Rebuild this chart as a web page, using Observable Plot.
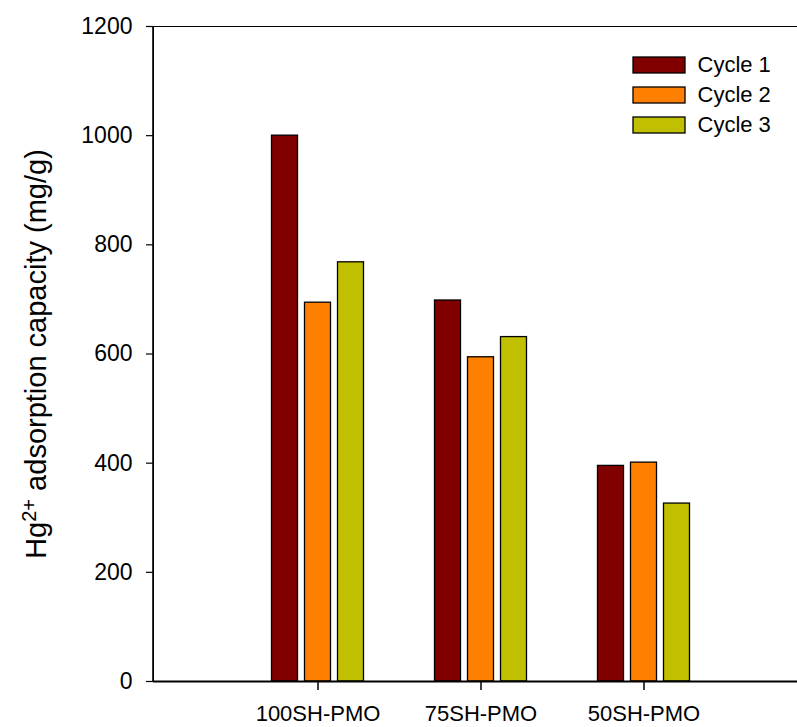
<!DOCTYPE html>
<html>
<head>
<meta charset="utf-8">
<script src="https://cdn.jsdelivr.net/npm/d3@7"></script>
<script src="https://cdn.jsdelivr.net/npm/@observablehq/plot@0.6"></script>
<style>
  html, body { margin: 0; padding: 0; background: #fff; }
  #wrap { position: relative; width: 797px; height: 727px; overflow: hidden; background: #fff; }
  #wrap > svg { position: absolute; left: 0; top: 0; }
  .lg-swatches { position: absolute; left: 633px; top: 50.5px; margin: 0 !important;
    font-family: "Liberation Sans", Arial, sans-serif !important; font-size: 22px !important; color: #000; }
  .lg-swatch { height: 29.7px; padding: 0 !important; }
  .lg-swatch > svg { margin-right: 12.5px; overflow: visible; }
  .lg-swatch svg rect { stroke: #000; stroke-width: 1.3px; }
</style>
</head>
<body>
<div id="wrap"></div>
<script>
// ---- data ----
const categories = ["100SH-PMO", "75SH-PMO", "50SH-PMO"];
const cycles = ["Cycle 1", "Cycle 2", "Cycle 3"];
const cycle1 = [1000, 698, 395];
const cycle2 = [694, 594, 401];
const cycle3 = [768, 631, 326];
const colors = ["#800000", "#FF8000", "#C0C000"];
const yTicks = [0, 200, 400, 600, 800, 1000, 1200];
const yTitle = "Hg2+ adsorption capacity (mg/g)";

const series = [cycle1, cycle2, cycle3];
const data = categories.flatMap((c, i) =>
  cycles.map((cy, j) => ({ category: c, cycle: cy, value: series[j][i] })));

// ---- layout ----
const FONT = "'Liberation Sans', Arial, Helvetica, sans-serif";
const W = 797, H = 727;
const mL = 153, mR = -10, mT = 26, mB = 46;
const step = (W - mL - mR) / (categories.length + 1);
const barW = 26.5, barStep = 33;
const inset = (step - barW) / 2;

const barMarks = cycles.map((cy, j) =>
  Plot.barY(data.filter(d => d.cycle === cy), {
    x: "category", y: "value", fill: "cycle",
    stroke: "#000", strokeWidth: 1.3,
    insetLeft: inset, insetRight: inset, dx: (j - 1) * barStep
  }));

const chart = Plot.plot({
  width: W, height: H,
  marginLeft: mL, marginRight: mR, marginTop: mT, marginBottom: mB,
  style: { fontFamily: FONT, fontSize: "22px", color: "#000", background: "#fff", overflow: "hidden" },
  x: { type: "band", domain: categories, paddingInner: 0, paddingOuter: 0.5 },
  y: { domain: [0, 1200] },
  color: { domain: cycles, range: colors },
  marks: [
    ...barMarks,
    Plot.frame({ stroke: "#000", strokeWidth: 1 }),
    Plot.axisX({ tickSize: 9, tickPadding: 15, fontSize: 22, label: null, strokeWidth: 1.5 }),
    Plot.axisY({ ticks: yTicks, tickFormat: d => String(d), tickSize: 7, tickPadding: 14, fontSize: 23, strokeWidth: 1.2,
      label: yTitle, labelAnchor: "center", labelArrow: "none", labelOffset: 128 }),
    Plot.ruleY([0], { stroke: "#000", strokeWidth: 2 })
  ]
});

// thicker left axis line
const svgns = "http://www.w3.org/2000/svg";
const leftLine = document.createElementNS(svgns, "line");
leftLine.setAttribute("x1", mL); leftLine.setAttribute("x2", mL);
leftLine.setAttribute("y1", mT); leftLine.setAttribute("y2", H - mB);
leftLine.setAttribute("stroke", "#000"); leftLine.setAttribute("stroke-width", "1.6");
chart.appendChild(leftLine);

// superscript in the y-axis title
const lab = chart.querySelector('[aria-label="y-axis label"] text');
if (lab) {
  lab.setAttribute("font-size", "29px");
  lab.textContent = "";
  const t1 = document.createElementNS(svgns, "tspan"); t1.textContent = "Hg";
  const t2 = document.createElementNS(svgns, "tspan"); t2.textContent = "2+";
  t2.setAttribute("font-size", "20px"); t2.setAttribute("dy", "-10");
  const t3 = document.createElementNS(svgns, "tspan"); t3.textContent = " adsorption capacity (mg/g)";
  t3.setAttribute("dy", "10");
  lab.append(t1, t2, t3);
}

const wrap = document.getElementById("wrap");
wrap.appendChild(chart);
const legend = chart.legend("color", { columns: 1, swatchWidth: 52, swatchHeight: 16, className: "lg" });
wrap.appendChild(legend);
</script>
</body>
</html>
